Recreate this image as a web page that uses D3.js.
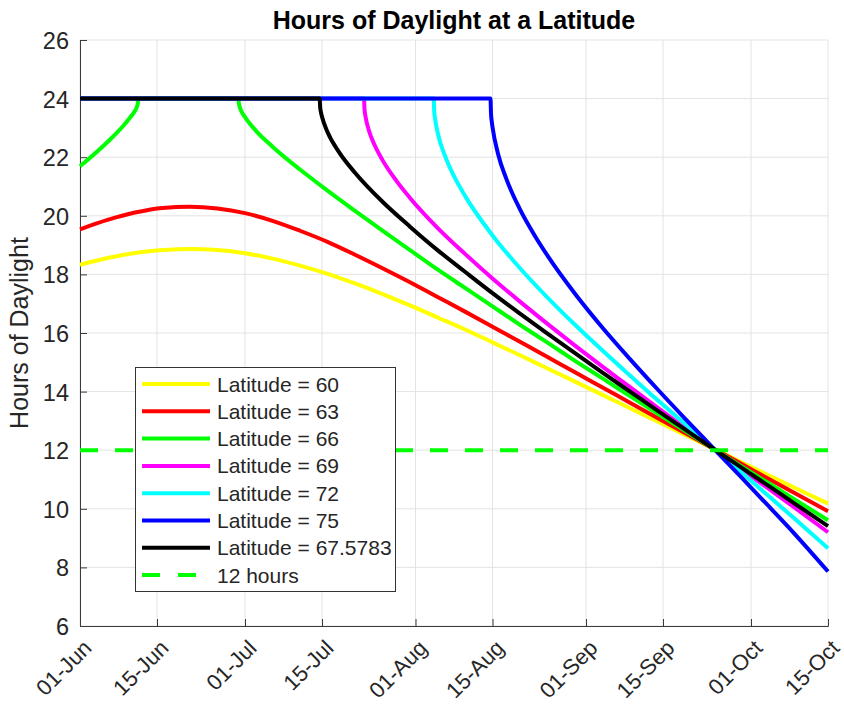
<!DOCTYPE html>
<html>
<head>
<meta charset="utf-8">
<script src="https://cdn.jsdelivr.net/npm/d3@7"></script>
<style>
  body { margin: 0; background: #ffffff; }
  text { font-family: "Liberation Sans", Arial, Helvetica, sans-serif; }
</style>
</head>
<body>
<svg id="chart" width="844" height="704"></svg>
<script>
// ---------------- data ----------------
const titleText = "Hours of Daylight at a Latitude";
const yLabelText = "Hours of Daylight";
const startDate = "2021-06-01";
const endDate = "2021-10-15";
const xTickDates = ["2021-06-01", "2021-06-15", "2021-07-01", "2021-07-15", "2021-08-01",
                    "2021-08-15", "2021-09-01", "2021-09-15", "2021-10-01", "2021-10-15"];
const yTickValues = [6, 8, 10, 12, 14, 16, 18, 20, 22, 24, 26];
const seriesNames = ["Latitude = 60", "Latitude = 63", "Latitude = 66", "Latitude = 69",
                     "Latitude = 72", "Latitude = 75", "Latitude = 67.5783"];
const referenceName = "12 hours";

// [days after 1 June, hours of daylight]
const lat60 = [[0,18.33],[5,18.56],[10,18.73],[15,18.83],[20,18.87],[25,18.83],[30,18.72],[35,18.54],
  [40,18.30],[45,18.02],[50,17.69],[55,17.33],[60,16.94],[65,16.53],[70,16.12],[75,15.68],[80,15.24],
  [85,14.79],[90,14.34],[95,13.89],[100,13.43],[105,12.98],[110,12.52],[115,12.07],[120,11.61],
  [125,11.16],[130,10.71],[136,10.18]];
const lat63 = [[0,19.54],[5,19.86],[10,20.11],[15,20.27],[20,20.31],[25,20.25],[30,20.09],[35,19.83],
  [40,19.49],[45,19.11],[50,18.67],[55,18.21],[60,17.73],[65,17.23],[70,16.73],[75,16.21],[80,15.70],
  [85,15.18],[90,14.66],[95,14.14],[100,13.62],[105,13.10],[110,12.59],[115,12.07],[120,11.56],
  [125,11.04],[130,10.53],[136,9.92]];
const lat66 = [[0,21.69],[5,22.52],[8,23.10],[9.5,23.45],[10,23.58],[10.35,23.72],[10.5,23.83],[10.6,24],
  [15,24],[20,24],[25,24],[28.8,24],[28.9,23.82],[29.05,23.71],[29.4,23.55],[30,23.37],[32,22.90],
  [35,22.36],[40,21.58],[45,20.86],[50,20.17],[55,19.49],[60,18.83],[65,18.17],[70,17.54],[75,16.91],
  [80,16.28],[85,15.67],[90,15.05],[95,14.45],[100,13.85],[105,13.25],[110,12.66],[115,12.07],
  [120,11.48],[125,10.90],[130,10.31],[136,9.61]];
const lat69 = [[0,24],[20,24],[40,24],[51.63,24],[51.73,23.64],[51.93,23.37],[52.5,22.93],[53.5,22.44],
  [55,21.90],[57.5,21.20],[60,20.61],[65,19.59],[70,18.70],[75,17.86],[80,17.07],[85,16.31],[90,15.57],
  [95,14.85],[100,14.15],[105,13.45],[110,12.76],[115,12.08],[120,11.39],[125,10.71],[130,10.03],
  [136,9.20]];
const lat72 = [[0,24],[20,24],[40,24],[64.3,24],[64.4,23.57],[64.6,23.26],[65,22.86],[66.5,21.98],
  [68,21.35],[70,20.68],[75,19.33],[80,18.21],[85,17.21],[90,16.28],[95,15.40],[100,14.55],[105,13.71],
  [110,12.90],[115,12.09],[120,11.28],[125,10.47],[130,9.65],[136,8.65]];
const lat75 = [[0,24],[20,24],[40,24],[74.63,24],[74.73,23.49],[74.88,23.20],[75,23.03],[76,22.12],
  [77.5,21.27],[80,20.22],[82.5,19.38],[85,18.64],[90,17.34],[95,16.18],[100,15.11],[105,14.08],
  [110,13.08],[115,12.10],[120,11.12],[125,10.13],[130,9.13],[136,7.86]];
const lat67_5783 = [[0,24],[20,24],[43.57,24],[43.67,23.70],[43.82,23.52],[44,23.38],[45,22.86],
  [47,22.20],[50,21.47],[55,20.48],[60,19.63],[65,18.83],[70,18.09],[75,17.36],[80,16.66],[85,15.98],
  [90,15.31],[95,14.65],[100,14.00],[105,13.35],[110,12.71],[115,12.07],[120,11.44],[125,10.81],
  [130,10.17],[136,9.41]];
const twelveHours = [[0,12],[136,12]];

const seriesData = [lat60, lat63, lat66, lat69, lat72, lat75, lat67_5783];
const seriesColors = ["#ffff00", "#ff0000", "#00ff00", "#ff00ff", "#00ffff", "#0000ff", "#000000"];
const referenceColor = "#00ff00";

// ---------------- layout ----------------
const margin = { left: 80, right: 16, top: 40, bottom: 78 };
const W = 844, H = 704;
const svg = d3.select("#chart");

const parse = d3.timeParse("%Y-%m-%d");
const t0 = parse(startDate);
const toDate = d => new Date(t0.getTime() + d * 864e5);

const x = d3.scaleTime().domain([parse(startDate), parse(endDate)]).range([margin.left, W - margin.right]);
const y = d3.scaleLinear().domain([6, 26]).range([H - margin.bottom, margin.top]);

const axisColor = "#3a3a3a";
const gridColor = "#e3e3e3";
const xTicks = xTickDates.map(parse);

// grid
const grid = svg.append("g");
grid.selectAll("line.v").data(xTicks).join("line")
  .attr("x1", d => x(d)).attr("x2", d => x(d))
  .attr("y1", y(26)).attr("y2", y(6))
  .attr("stroke", gridColor).attr("stroke-width", 1);
grid.selectAll("line.h").data(yTickValues).join("line")
  .attr("x1", x.range()[0]).attr("x2", x.range()[1])
  .attr("y1", d => y(d)).attr("y2", d => y(d))
  .attr("stroke", gridColor).attr("stroke-width", 1);

// axes
const yAxis = d3.axisLeft(y).tickValues(yTickValues).tickSize(-7).tickPadding(11).tickFormat(d3.format("d"));
const gy = svg.append("g").attr("transform", `translate(${margin.left},0)`).call(yAxis);
gy.select(".domain").attr("stroke", axisColor);
gy.selectAll(".tick line").attr("stroke", axisColor);
gy.selectAll(".tick text").attr("fill", "#262626").style("font-size", "23.5px")
  .attr("dy", "0.36em");

const xAxis = d3.axisBottom(x).tickValues(xTicks).tickSize(-7).tickFormat(d3.timeFormat("%d-%b"));
const gx = svg.append("g").attr("transform", `translate(0,${H - margin.bottom})`).call(xAxis);
gx.select(".domain").attr("stroke", axisColor);
gx.selectAll(".tick line").attr("stroke", axisColor);
gx.selectAll(".tick text")
  .attr("fill", "#262626").style("font-size", "22px")
  .attr("x", 0).attr("y", 0).attr("dy", "0.35em")
  .attr("text-anchor", "end")
  .attr("transform", "translate(7,18) rotate(-45)");
svg.selectAll(".domain").attr("stroke-width", 1);

// lines
const line = d3.line()
  .x(d => x(toDate(d[0])))
  .y(d => y(d[1]))
  .curve(d3.curveMonotoneX);

const plot = svg.append("g");
plot.selectAll("path.series").data(seriesData).join("path")
  .attr("class", "series")
  .attr("d", d => line(d))
  .attr("fill", "none")
  .attr("stroke", (d, i) => seriesColors[i])
  .attr("stroke-width", 4)
  .attr("stroke-linejoin", "round")
  .attr("stroke-linecap", "butt");

plot.append("path")
  .attr("d", d3.line().x(d => x(toDate(d[0]))).y(d => y(d[1]))(twelveHours))
  .attr("fill", "none")
  .attr("stroke", referenceColor)
  .attr("stroke-width", 4)
  .attr("stroke-dasharray", "18,17");

// title
svg.append("text")
  .attr("x", (x.range()[0] + x.range()[1]) / 2).attr("y", 29)
  .attr("text-anchor", "middle")
  .style("font-size", "25px").style("font-weight", "bold").attr("fill", "#000")
  .text(titleText);

// y label
svg.append("text")
  .attr("transform", `translate(28,${(y(6) + y(26)) / 2}) rotate(-90)`)
  .attr("text-anchor", "middle")
  .style("font-size", "25px").attr("fill", "#262626")
  .text(yLabelText);

// legend
const legend = svg.append("g").attr("transform", "translate(135.5,367.5)");
legend.append("rect").attr("width", 260).attr("height", 224)
  .attr("fill", "#ffffff").attr("stroke", "#333333").attr("stroke-width", 1);
const legendItems = seriesNames.map((n, i) => ({ name: n, color: seriesColors[i], dash: null }))
  .concat([{ name: referenceName, color: referenceColor, dash: "18,18" }]);
const rowH = 27.3;
const li = legend.selectAll("g.item").data(legendItems).join("g")
  .attr("class", "item")
  .attr("transform", (d, i) => `translate(0,${16.5 + i * rowH})`);
li.append("line").attr("x1", 6.5).attr("x2", 74.5).attr("y1", 0).attr("y2", 0)
  .attr("stroke", d => d.color).attr("stroke-width", 4)
  .attr("stroke-dasharray", d => d.dash);
li.append("text").attr("x", 81.5).attr("y", 0).attr("dy", "0.36em")
  .style("font-size", "21px").attr("fill", "#262626")
  .text(d => d.name);
</script>
</body>
</html>
